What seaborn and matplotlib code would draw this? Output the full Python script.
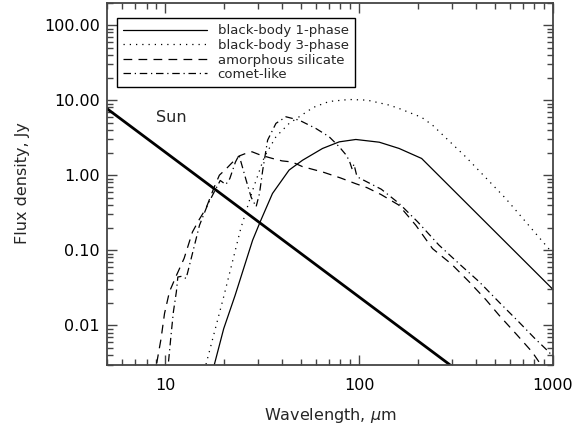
import matplotlib
matplotlib.use("Agg")
import matplotlib.pyplot as plt
import matplotlib.ticker as mticker
import numpy as np
import pandas as pd
import seaborn as sns

# ---- data ----
sun_wl = [5.0, 1000.0]
sun_flux = [7.7, 2.8e-4]

bb1_wl = [17.5, 17.9, 20.0, 22.9, 28.2, 31.1, 35.7, 43.5, 51.0, 64.7, 78.9, 96.1, 127.0, 160.7, 210.0, 1000.0]
bb1_flux = [0.0022, 0.003, 0.009, 0.025, 0.136, 0.251, 0.57, 1.17, 1.58, 2.27, 2.78, 2.99, 2.75, 2.27, 1.67, 0.030]

bb3_wl = [16.0, 16.2, 20.0, 24.5, 28.2, 32.4, 37.2, 43.5, 58.0, 70.0, 88.8, 110.0, 143.0, 160.7, 210.0, 239.0, 355.0, 570.0, 950.0, 1000.0]
bb3_flux = [0.0025, 0.003, 0.024, 0.195, 0.63, 1.75, 3.25, 4.89, 8.0, 9.6, 10.2, 10.0, 8.58, 7.74, 5.9, 4.64, 1.75, 0.489, 0.105, 0.09]

sil_wl = [8.7, 9.0, 9.5, 9.9, 10.5, 11.4, 12.5, 13.8, 15.0, 16.2, 17.9, 19.0, 20.5, 22.0, 24.0, 26.0, 28.0, 31.0,
          35.7, 40.0, 45.0, 51.0, 65.0, 80.0, 96.0, 110.0, 130.0, 160.0, 196.0, 239.0, 300.0, 369.0, 450.0, 527.0,
          650.0, 781.0, 850.0, 1000.0]
sil_flux = [0.002, 0.003, 0.0066, 0.0143, 0.028, 0.046, 0.078, 0.175, 0.26, 0.36, 0.7, 1.0, 1.2, 1.45, 1.8, 1.95, 2.05, 1.85,
            1.67, 1.55, 1.5, 1.3, 1.1, 0.92, 0.77, 0.68, 0.55, 0.40, 0.215, 0.105, 0.065, 0.038, 0.022, 0.0136,
            0.0075, 0.0044, 0.0032, 0.0022]

com_wl = [10.2, 10.7, 11.0, 11.4, 11.6, 12.2, 12.8, 13.6, 15.0, 16.5, 18.0, 19.2, 20.5, 21.5, 23.0, 24.0, 26.1, 27.7,
          29.4, 30.6, 31.8, 33.7, 37.2, 41.9, 49.1, 59.8, 70.0, 78.9, 85.0, 88.8, 92.0, 94.0, 97.0, 100.0, 130.0,
          160.7, 200.0, 258.0, 330.0, 416.0, 530.0, 668.0, 800.0, 953.0, 1000.0]
com_flux = [0.002, 0.0074, 0.015, 0.028, 0.044, 0.045, 0.042, 0.078, 0.215, 0.4, 0.62, 0.85, 0.75, 0.9, 1.5, 1.85, 0.86, 0.51,
            0.38, 0.57, 1.17, 2.93, 4.9, 6.0, 5.4, 4.19, 3.25, 2.39, 1.9, 1.58, 1.2, 1.4, 1.0, 0.92, 0.65,
            0.42, 0.24, 0.117, 0.065, 0.038, 0.02, 0.011, 0.0068, 0.0044, 0.0038]

series = [
    ("black-body 1-phase", bb1_wl, bb1_flux, "-"),
    ("black-body 3-phase", bb3_wl, bb3_flux, (0, (1, 4))),
    ("amorphous silicate", sil_wl, sil_flux, (0, (7, 5))),
    ("comet-like", com_wl, com_flux, (0, (6, 3, 1, 3))),
]

xticks = [10, 100, 1000]
yticks = [0.01, 0.1, 1.0, 10.0, 100.0]

# ---- plotting ----
sns.set_style("ticks")
plt.rcParams["font.family"] = ["DejaVu Sans"]

W, H = 577, 430
fig = plt.figure(figsize=(W / 100, H / 100), dpi=100)
ax = fig.add_axes([107 / W, (H - 364.5) / H, (553 - 107) / W, (364.5 - 2.5) / H])

for name, wl, fl, ls in series:
    df = pd.DataFrame({"wl": wl, "flux": fl})
    sns.lineplot(data=df, x="wl", y="flux", ax=ax, color="black", linewidth=0.9,
                 linestyle=ls, label=name, estimator=None, sort=False)

sun_df = pd.DataFrame({"wl": sun_wl, "flux": sun_flux})
sns.lineplot(data=sun_df, x="wl", y="flux", ax=ax, color="black", linewidth=2.0,
             estimator=None, sort=False, legend=False)

ax.set_xscale("log")
ax.set_yscale("log")
ax.set_xlim(5, 1000)
ax.set_ylim(0.003, 200)
ax.set_xticks(xticks)
ax.set_xticklabels([str(t) for t in xticks])
ax.set_yticks(yticks)
ax.yaxis.set_major_formatter(mticker.FormatStrFormatter("%.2f"))
ax.xaxis.set_minor_locator(mticker.LogLocator(base=10, subs=np.arange(2, 10)))
ax.yaxis.set_minor_locator(mticker.LogLocator(base=10, subs=np.arange(2, 10)))
ax.xaxis.set_minor_formatter(mticker.NullFormatter())
ax.yaxis.set_minor_formatter(mticker.NullFormatter())

ax.tick_params(which="both", direction="in", top=True, right=True, color="#444444", width=1.0,
               labelsize=11.5, labelcolor="black")
ax.tick_params(axis="y", which="major", length=7, pad=5)
ax.tick_params(axis="x", which="major", length=7, pad=10)
ax.tick_params(which="minor", length=4)
for sp in ax.spines.values():
    sp.set_color("#444444")
    sp.set_linewidth(1.3)

ax.set_xlabel("Wavelength, $\\mu$m", fontsize=11.5, labelpad=9)
ax.set_ylabel("Flux density, Jy", fontsize=11.5, labelpad=10)

ax.text(10.7, 5.9, "Sun", fontsize=11.5, ha="center", va="center")

leg = ax.legend(loc="upper left", bbox_to_anchor=(0.0217, 0.956), borderaxespad=0,
                fontsize=9.5, handlelength=6.4, handletextpad=0.8, labelspacing=0.12,
                borderpad=0.45, fancybox=False, framealpha=1, edgecolor="black")
leg.get_frame().set_linewidth(1.0)

fig.savefig("out.png", dpi=100)
